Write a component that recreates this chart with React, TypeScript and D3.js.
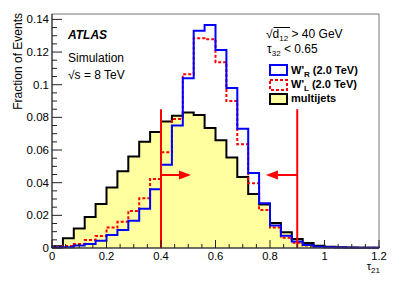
import React from 'react';
import * as d3 from 'd3';

// tau21 histogram, 30 bins of 0.04 from 0 to 1.2
const binWidth = 0.04;
const binLow = d3.range(30).map(i => +(i * binWidth).toFixed(2));

const multijets = [0.001, 0.006, 0.012, 0.019, 0.027, 0.037, 0.047, 0.056, 0.065, 0.071,
    0.0775, 0.081, 0.083, 0.0815, 0.0735, 0.066, 0.0555, 0.0435, 0.033, 0.0267,
    0.0153, 0.0096, 0.0055, 0.003, 0.0014, 0.0008, 0.0004, 0.0003, 0.0002, 0.0001];
const wPrimeR = [0.0003, 0.0005, 0.0015, 0.0025, 0.0045, 0.008, 0.011, 0.0167, 0.024, 0.036,
    0.051, 0.075, 0.104, 0.133, 0.1366, 0.1213, 0.098, 0.073, 0.046, 0.0274,
    0.0138, 0.0075, 0.004, 0.0018, 0.0008, 0.0004, 0.0003, 0.0002, 0.0001, 0.0001];
const wPrimeL = [0.0006, 0.0012, 0.0025, 0.0049, 0.0074, 0.0125, 0.0161, 0.0227, 0.0304, 0.0423,
    0.0586, 0.079, 0.1064, 0.1285, 0.1279, 0.1138, 0.09, 0.0635, 0.0396, 0.0233,
    0.0125, 0.0063, 0.0032, 0.0016, 0.0006, 0.0003, 0.0002, 0.0001, 0.0001, 0.0001];

const xTicks = [0, 0.2, 0.4, 0.6, 0.8, 1, 1.2];
const yTicks = [0, 0.02, 0.04, 0.06, 0.08, 0.1, 0.12, 0.14];

// cut lines and arrows
const cutLow = 0.4;
const cutHigh = 0.9;
const cutTop = 0.085;
const arrowY = 0.0447;
const arrowLen = 0.11;

const W = 399, H = 286;
const frame = { left: 52, right: 379, top: 14, bottom: 248 };
const font = '"Liberation Sans", Arial, Helvetica, sans-serif';

const x = d3.scaleLinear().domain([0, 1.2]).range([frame.left, frame.right]);
const y = d3.scaleLinear().domain([0, 0.14]).range([frame.bottom, 19.4]);

function stepPoints(values: number[]): [number, number][] {
    const pts: [number, number][] = [[0, 0]];
    values.forEach((v, i) => pts.push([binLow[i], v]));
    pts.push([1.2, values[values.length - 1]]);
    pts.push([1.2, 0]);
    return pts;
}

const outline = d3.line<[number, number]>()
    .x(d => x(d[0]))
    .y(d => y(d[1]))
    .curve(d3.curveStepAfter);

const fillArea = d3.area<[number, number]>()
    .x(d => x(d[0]))
    .y0(y(0))
    .y1(d => y(d[1]))
    .curve(d3.curveStepAfter);

function Arrow({ from, to }: { from: number, to: number }) {
    const yy = y(arrowY);
    const x0 = x(from), x1 = x(to);
    const dir = Math.sign(x1 - x0);
    const head = 12;
    return (
        <g>
            <line x1={x0} y1={yy} x2={x1 - dir * head} y2={yy} stroke="#ff0000" strokeWidth={2} />
            <path d={`M${x1},${yy} L${x1 - dir * head},${yy - 4.5} L${x1 - dir * head},${yy + 4.5} Z`} fill="#ff0000" />
        </g>
    );
}

export default function App() {
    const xMinor = d3.range(0, 1.2001, 0.05);
    const yMinor = d3.range(0, 0.1431, 0.005);
    const mjPts = stepPoints(multijets);
    return (
        <svg width={W} height={H} style={{ position: 'absolute', left: 0, top: 0, background: '#fff' }}
             fontFamily={font}>
            {/* histograms */}
            <path d={fillArea(mjPts) || ''} fill="#ffffa0" />
            <path d={outline(mjPts) || ''} fill="none" stroke="#000" strokeWidth={2} />
            <path d={outline(stepPoints(wPrimeL)) || ''} fill="none" stroke="#ff0000" strokeWidth={2}
                  strokeDasharray="3 2" />
            <path d={outline(stepPoints(wPrimeR)) || ''} fill="none" stroke="#0000ff" strokeWidth={2} />

            {/* cuts */}
            {[cutLow, cutHigh].map(c => (
                <line key={c} x1={x(c)} x2={x(c)} y1={y(0)} y2={y(cutTop)} stroke="#ff0000" strokeWidth={2} />
            ))}
            <Arrow from={cutLow} to={cutLow + arrowLen} />
            <Arrow from={cutHigh} to={cutHigh - arrowLen - 0.005} />

            {/* frame */}
            <rect x={frame.left} y={frame.top} width={frame.right - frame.left} height={frame.bottom - frame.top}
                  fill="none" stroke="#777" strokeWidth={1} />
            <line x1={frame.left} x2={frame.left} y1={frame.top} y2={frame.bottom} stroke="#222" />
            <line x1={frame.left} x2={frame.right} y1={frame.bottom} y2={frame.bottom} stroke="#222" />

            {/* ticks */}
            {xMinor.map((t, i) => {
                const major = i % 4 === 0;
                return <line key={'xm' + i} x1={x(t)} x2={x(t)} y1={frame.bottom} y2={frame.bottom - (major ? 8 : 4)}
                             stroke="#222" />;
            })}
            {yMinor.map((t, i) => {
                const major = i % 4 === 0;
                return <line key={'ym' + i} x1={frame.left} x2={frame.left + (major ? 10 : 5)} y1={y(t)} y2={y(t)}
                             stroke="#222" />;
            })}
            {xTicks.map(t => (
                <text key={'xt' + t} x={x(t)} y={260} fontSize={11.2} textAnchor="middle">{t}</text>
            ))}
            {yTicks.map(t => (
                <text key={'yt' + t} x={49} y={y(t) + 4} fontSize={11.5} textAnchor="end">{t}</text>
            ))}

            {/* axis titles */}
            <text transform="translate(22,13) rotate(-90)" fontSize={12} textAnchor="end">Fraction of Events</text>
            <text x={380} y={270} fontSize={11} textAnchor="end">
                τ<tspan fontSize={8} dy={3}>21</tspan>
            </text>

            {/* labels */}
            <text x={68} y={39} fontSize={12} fontWeight="bold" fontStyle="italic">ATLAS</text>
            <text x={68} y={62} fontSize={12}>Simulation</text>
            <text x={68} y={79} fontSize={12}>√s = 8 TeV</text>

            <text x={266} y={38} fontSize={12}>
                √<tspan>d</tspan><tspan fontSize={8} dy={3}>12</tspan><tspan dy={-3}> &gt; 40 GeV</tspan>
            </text>
            <line x1={273.5} x2={290} y1={27.5} y2={27.5} stroke="#000" strokeWidth={1} />
            <text x={267} y={53} fontSize={12}>
                τ<tspan fontSize={8} dy={3}>32</tspan><tspan dy={-3}> &lt; 0.65</tspan>
            </text>

            {/* legend */}
            <rect x={270} y={65} width={17} height={10} fill="#fff" stroke="#0000ff" strokeWidth={2} />
            <text x={291} y={74} fontSize={11} fontWeight="bold">
                W'<tspan fontSize={8} dy={3}>R</tspan><tspan dy={-3}> (2.0 TeV)</tspan>
            </text>
            <rect x={270} y={80} width={17} height={10} fill="#fff" stroke="#ff0000" strokeWidth={2}
                  strokeDasharray="3 2" />
            <text x={291} y={88} fontSize={11} fontWeight="bold">
                W'<tspan fontSize={8} dy={3}>L</tspan><tspan dy={-3}> (2.0 TeV)</tspan>
            </text>
            <rect x={270} y={94} width={17} height={10} fill="#ffffa0" stroke="#000" strokeWidth={2} />
            <text x={291} y={102} fontSize={11} fontWeight="bold">multijets</text>
        </svg>
    );
}
